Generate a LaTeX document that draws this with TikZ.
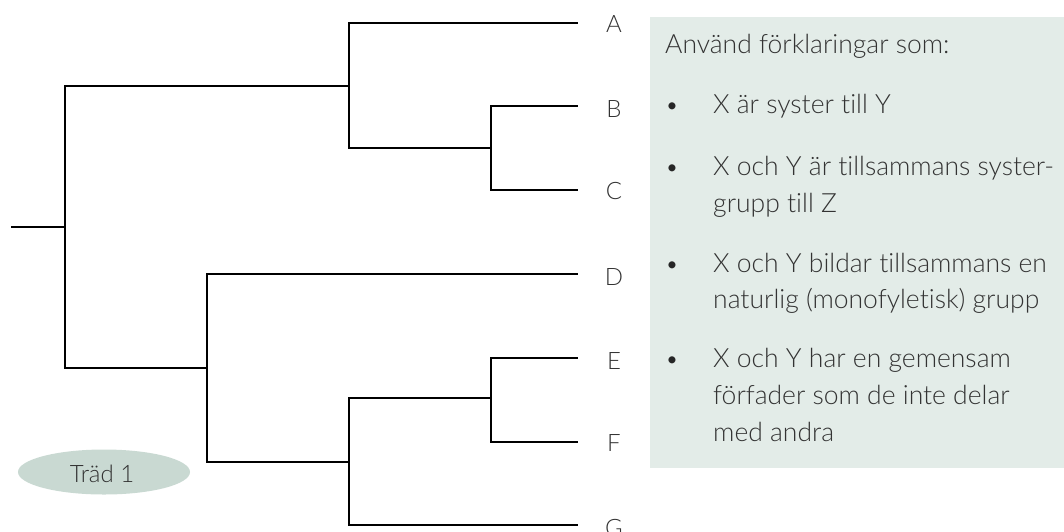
\documentclass[tikz,border=0pt]{standalone}
\usepackage{fontspec}
\usetikzlibrary{shapes.geometric}
\setmainfont{Lato Light}[Ligatures={NoCommon}]
\begin{document}
\begin{tikzpicture}[x=1pt,y=-1pt,
  branch/.style={line width=2.5pt, black},
  lbl/.style={inner sep=0pt, anchor=base, text=black!80, font=\fontsize{24}{29}\selectfont},
  txt/.style={inner sep=0pt, anchor=base west, text=black!80, font=\fontsize{26.5}{31}\selectfont},
  bul/.style={inner sep=0pt, anchor=base, text=black!85, font=\fontsize{24}{29}\selectfont},
  boxfill/.style={fill=boxc, draw=none},
]
\definecolor{boxc}{HTML}{E3ECE8}
\definecolor{ellc}{HTML}{C9D9D2}
\useasboundingbox (0,0) rectangle (1064,531);
% text panel
\node[boxfill, anchor=north west, minimum width=414pt, minimum height=451pt, inner sep=0pt] (panel) at (650,17) {};
% tree coordinates
\coordinate (stub) at (11,227);
\coordinate (root) at (65,227);
\coordinate (nABC) at (349,86);
\coordinate (nBC) at (491,148);
\coordinate (nDEFG) at (207,368);
\coordinate (nEFG) at (349,462);
\coordinate (nEF) at (491,398);
\coordinate (A) at (578,23);
\coordinate (B) at (578,106);
\coordinate (C) at (578,190);
\coordinate (D) at (578,274);
\coordinate (E) at (578,358);
\coordinate (F) at (578,442);
\coordinate (G) at (578,525);
% branches
\draw[branch] (stub) -- (root);
\draw[branch] (root) |- (nABC);
\draw[branch] (root) |- (nDEFG);
\draw[branch] (nABC) |- (A);
\draw[branch] (nABC) |- (nBC);
\draw[branch] (nBC) |- (B);
\draw[branch] (nBC) |- (C);
\draw[branch] (nDEFG) |- (D);
\draw[branch] (nDEFG) |- (nEFG);
\draw[branch] (nEFG) |- (nEF);
\draw[branch] (nEFG) |- (G);
\draw[branch] (nEF) |- (E);
\draw[branch] (nEF) |- (F);
% leaf labels
\node[lbl] (lA) at (614,32) {A};
\node[lbl] (lB) at (614,117) {B};
\node[lbl] (lC) at (614,199) {C};
\node[lbl] (lD) at (614,285) {D};
\node[lbl] (lE) at (614,369) {E};
\node[lbl] (lF) at (614,451) {F};
\node[lbl] (lG) at (614,536) {G};
% tree name
\node[fill=ellc, ellipse, minimum width=172pt, minimum height=45pt, inner sep=0pt] (tree) at (104,472) {};
\node[lbl] (treetxt) at (102,482) {Träd 1};
% panel text
\node[txt] (head) at (665,53) {Använd förklaringar som:};
\node[bul] (b1) at (672,113) {•};
\node[txt] (t1) at (713,113) {X är syster till Y};
\node[bul] (b2) at (672,175) {•};
\node[txt] (t2a) at (713,175) {X och Y är tillsammans syster-};
\node[txt] (t2b) at (713,212) {grupp till Z};
\node[bul] (b3) at (672,272) {•};
\node[txt] (t3a) at (713,272) {X och Y bildar tillsammans en};
\node[txt] (t3b) at (713,308) {naturlig (monofyletisk) grupp};
\node[bul] (b4) at (672,367) {•};
\node[txt] (t4a) at (713,367) {X och Y har en gemensam};
\node[txt] (t4b) at (713,404) {förfader som de inte delar};
\node[txt] (t4c) at (713,441) {med andra};
\end{tikzpicture}
\end{document}
